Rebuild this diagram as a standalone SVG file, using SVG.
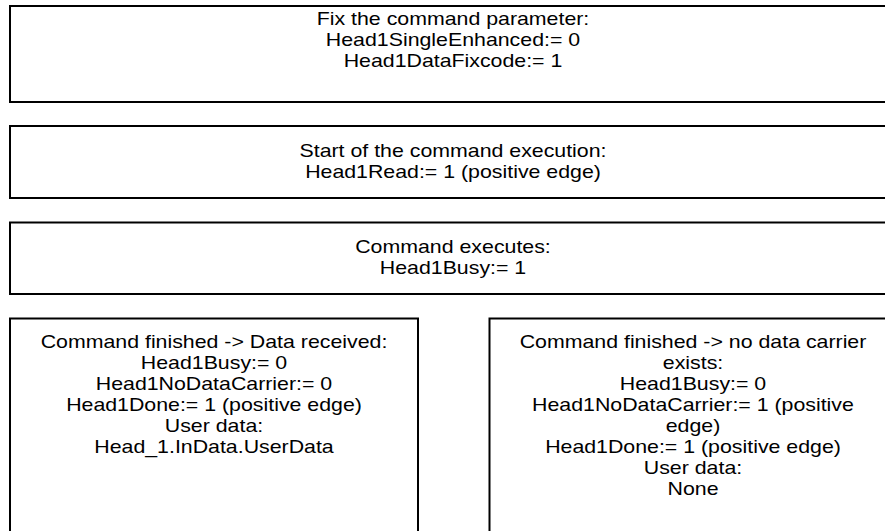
<svg xmlns="http://www.w3.org/2000/svg" width="885" height="531" viewBox="0 0 885 531">
<style>
.box{fill:#fff;stroke:#000;stroke-width:2}
.t{font-family:"Liberation Sans",Arial,sans-serif;font-size:18.4px;fill:#000;text-anchor:middle}
</style>
<rect width="885" height="531" fill="#fff"/>
<g id="connectors"></g>
<g id="n1">
<rect class="box" x="10" y="6" width="890" height="96"/>
<g transform="translate(453,0) scale(1.16,1)">
<text class="t" x="0" y="25">Fix the command parameter:</text>
<text class="t" x="0" y="46">Head1SingleEnhanced:= 0</text>
<text class="t" x="0" y="67">Head1DataFixcode:= 1</text>
</g>
</g>
<g id="n2">
<rect class="box" x="10" y="126" width="890" height="72"/>
<g transform="translate(453,0) scale(1.16,1)">
<text class="t" x="0" y="157">Start of the command execution:</text>
<text class="t" x="0" y="178">Head1Read:= 1 (positive edge)</text>
</g>
</g>
<g id="n3">
<rect class="box" x="10" y="222.5" width="890" height="71.5"/>
<g transform="translate(453,0) scale(1.16,1)">
<text class="t" x="0" y="253">Command executes:</text>
<text class="t" x="0" y="274">Head1Busy:= 1</text>
</g>
</g>
<g id="n4">
<rect class="box" x="10" y="318.5" width="408" height="230"/>
<g transform="translate(214,0) scale(1.16,1)">
<text class="t" x="0" y="348">Command finished -&gt; Data received:</text>
<text class="t" x="0" y="369">Head1Busy:= 0</text>
<text class="t" x="0" y="390">Head1NoDataCarrier:= 0</text>
<text class="t" x="0" y="411">Head1Done:= 1 (positive edge)</text>
<text class="t" x="0" y="432">User data:</text>
<text class="t" x="0" y="453">Head_1.InData.UserData</text>
</g>
</g>
<g id="n5">
<rect class="box" x="489.5" y="318.5" width="420" height="230"/>
<g transform="translate(693,0) scale(1.16,1)">
<text class="t" x="0" y="348">Command finished -&gt; no data carrier</text>
<text class="t" x="0" y="369">exists:</text>
<text class="t" x="0" y="390">Head1Busy:= 0</text>
<text class="t" x="0" y="411">Head1NoDataCarrier:= 1 (positive</text>
<text class="t" x="0" y="432">edge)</text>
<text class="t" x="0" y="453">Head1Done:= 1 (positive edge)</text>
<text class="t" x="0" y="474">User data:</text>
<text class="t" x="0" y="495">None</text>
</g>
</g>
</svg>
